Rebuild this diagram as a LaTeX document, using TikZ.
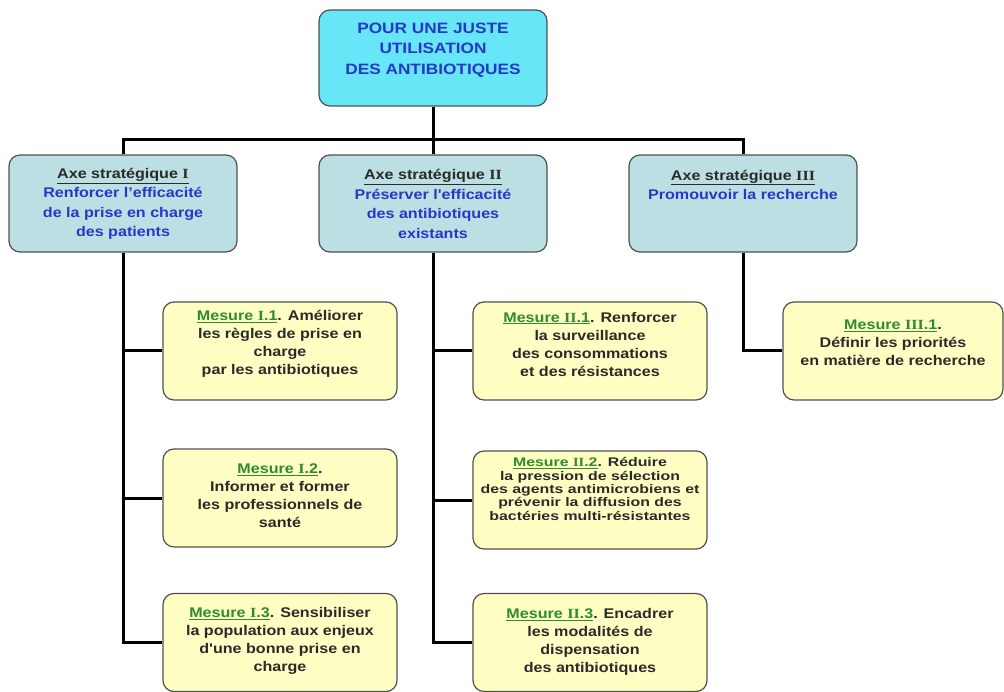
\documentclass[tikz,border=0pt]{standalone}
\usepackage{fontspec}
\setmainfont{Liberation Sans}[FakeStretch=1.15]
\newfontfamily\rnfont{Liberation Serif}[FakeStretch=1.15]
\newfontfamily\wideff{Liberation Sans}[FakeStretch=1.27]
\newfontfamily\plainff{Liberation Sans}[FakeStretch=1.15,Ligatures=NoCommon]
\newcommand{\rn}[1]{{\rnfont\bfseries #1}}
\newcommand{\sq}{{\plainff\bfseries\symbol{39}}}
\definecolor{topfill}{HTML}{66E6F6}
\definecolor{axfill}{HTML}{BCDFE4}
\definecolor{mfill}{HTML}{FFFFC4}
\definecolor{boxborder}{HTML}{505050}
\definecolor{blueTxt}{HTML}{2538C8}
\definecolor{darkTxt}{HTML}{2A2A2A}
\definecolor{greenTxt}{HTML}{2E8B2E}
\tikzset{
  box/.style={draw=boxborder, line width=1.2pt, rounded corners=11pt, inner sep=0pt},
  txt/.style={align=center, inner sep=0pt},
  topbox/.style={box, fill=topfill, minimum width=228pt, minimum height=96pt},
  axbox/.style={box, fill=axfill, minimum width=228pt, minimum height=97pt},
  mbox/.style={box, fill=mfill, minimum width=234pt, minimum height=98pt},
  toptxt/.style={txt, text=blueTxt, font=\bfseries\fontsize{15}{20.3}\selectfont},
  axtxt/.style={txt, text=blueTxt, font=\bfseries\fontsize{14}{19.5}\selectfont},
  mtxt/.style={txt, text=darkTxt, font=\bfseries\fontsize{14}{18}\selectfont},
  wire/.style={line width=3pt, black}
}
\newcommand{\axt}[1]{\textcolor{darkTxt}{\underline{Axe stratégique \rn{#1}}}}
\newcommand{\mes}[2]{\textcolor{greenTxt}{\underline{Mesure \rn{#1}.#2}}}
\begin{document}
\begin{tikzpicture}[x=1pt,y=-1pt]
\useasboundingbox (0,0) rectangle (1004,692);
% boxes
\node[topbox] (top) at (433,58) {};
\node[axbox] (ax1) at (123,203.5) {};
\node[axbox] (ax2) at (433,203.5) {};
\node[axbox] (ax3) at (743,203.5) {};
\node[mbox] (m11) at (280,351) {};
\node[mbox] (m12) at (280,498) {};
\node[mbox] (m13) at (280,642.5) {};
\node[mbox] (m21) at (590,351) {};
\node[mbox] (m22) at (590,500) {};
\node[mbox] (m23) at (590,642.5) {};
\node[mbox, minimum width=220pt] (m31) at (893,351) {};
% texts
\node[toptxt] (topt) at (433,50) {POUR UNE JUSTE\\UTILISATION\\DES ANTIBIOTIQUES};
\node[axtxt] (ax1t) at (123,204) {\axt{I}\\Renforcer l’efficacité\\de la prise en charge\\des patients};
\node[axtxt] (ax2t) at (433,204) {\axt{II}\\Préserver l\sq efficacité\\des antibiotiques\\existants};
\node[axtxt] (ax3t) at (743,185) {\axt{III}\\Promouvoir la recherche};
\node[mtxt] (m11t) at (280,344) {\mes{I}{1}. Améliorer\\les règles de prise en\\charge\\par les antibiotiques};
\node[mtxt] (m12t) at (280,495.5) {\mes{I}{2}.\\Informer et former\\les professionnels de\\santé};
\node[mtxt] (m13t) at (280,641) {\mes{I}{3}. Sensibiliser\\la population aux enjeux\\d\sq une bonne prise en\\charge};
\node[mtxt] (m21t) at (590,344) {\mes{II}{1}. Renforcer\\la surveillance\\des consommations\\et des résistances};
\node[mtxt, font=\wideff\bfseries\fontsize{12.5}{13.4}\selectfont] (m22t) at (590,489) {\mes{II}{2}. Réduire\\la pression de sélection\\des agents antimicrobiens et\\prévenir la diffusion des\\bactéries multi-résistantes};
\node[mtxt] (m23t) at (590,642) {\mes{II}{3}. Encadrer\\les modalités de\\dispensation\\des antibiotiques};
\node[mtxt] (m31t) at (893,343) {\mes{III}{1}.\\Définir les priorités\\en matière de recherche};
% connectors
\coordinate (bus) at (433,140);
\draw[wire] (top.south) -- (bus);
\draw[wire] (ax1.north) |- (bus) -| (ax3.north);
\draw[wire] (bus) -- (ax2.north);
\draw[wire] (ax1.south) |- (m11.west);
\draw[wire] (ax1.south) |- (m12.west);
\draw[wire] (ax1.south) |- (m13.west);
\draw[wire] (ax2.south) |- (m21.west);
\draw[wire] (ax2.south) |- (m22.west);
\draw[wire] (ax2.south) |- (m23.west);
\draw[wire] (ax3.south) |- (m31.west);
\end{tikzpicture}
\end{document}
